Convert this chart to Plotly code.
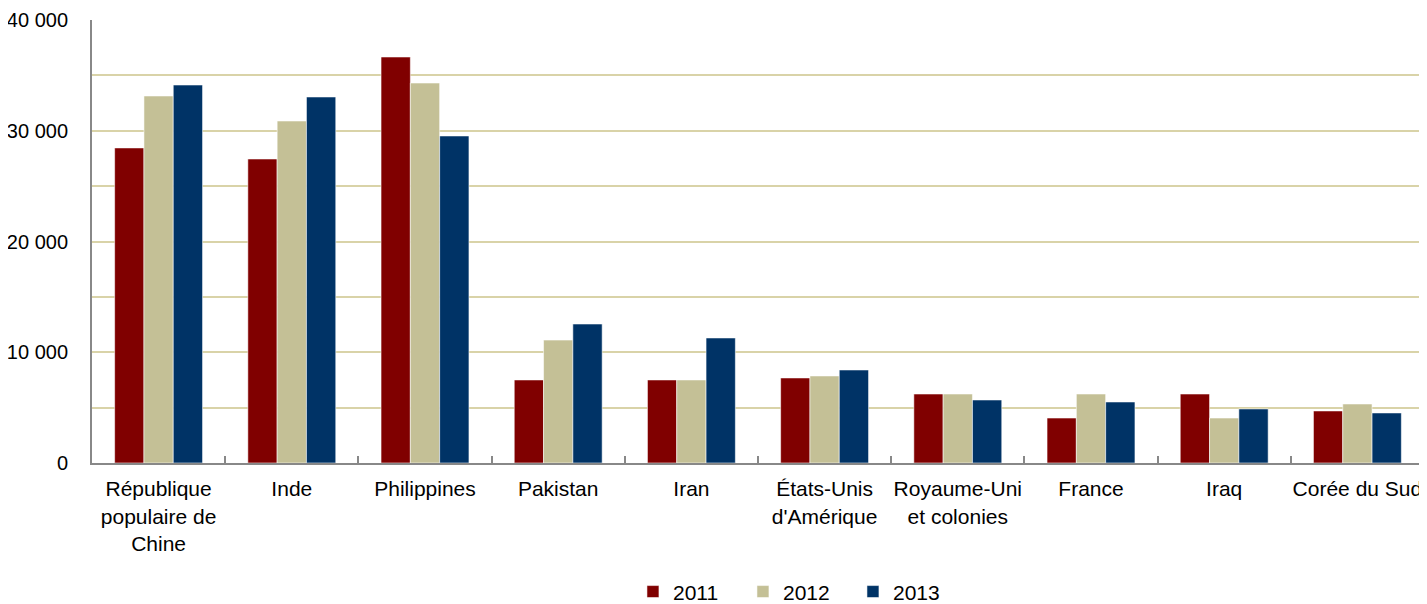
import plotly.graph_objects as go

categories = ["République<br>populaire de<br>Chine", "Inde", "Philippines", "Pakistan", "Iran",
              "États-Unis<br>d'Amérique", "Royaume-Uni<br>et colonies", "France", "Iraq", "Corée du Sud"]
years = ["2011", "2012", "2013"]
v2011 = [28450, 27450, 36660, 7500, 7500, 7680, 6230, 4060, 6230, 4700]
v2012 = [33140, 30880, 34310, 11100, 7500, 7860, 6230, 6230, 4060, 5330]
v2013 = [34130, 33050, 29530, 12550, 11290, 8400, 5690, 5510, 4880, 4520]
series = [v2011, v2012, v2013]
colors = ["#800000", "#C4C096", "#003366"]

tickvals = [0, 5000, 10000, 15000, 20000, 25000, 30000, 35000, 40000]
ticktext = ["0", "", "10 000", "", "20 000", "", "30 000", "", "40 000"]

font = "Liberation Sans, Arial, sans-serif"

fig = go.Figure()
for name, vals, col in zip(years, series, colors):
    fig.add_trace(go.Bar(
        x=categories, y=vals, name=name,
        marker=dict(color=col, line=dict(color="rgba(255,255,255,0.55)", width=1)),
    ))

fig.update_layout(
    width=1419, height=620,
    margin=dict(l=84, r=3, t=12, b=165),
    paper_bgcolor="white", plot_bgcolor="white",
    barmode="group", bargap=0.34, bargroupgap=0,
    font=dict(family=font, size=20, color="black"),
    showlegend=True,
    legend=dict(orientation="h", x=0.530, xanchor="center", y=-0.291, yanchor="middle",
                font=dict(size=21), entrywidth=65, entrywidthmode="pixels",
                itemwidth=30, tracegroupgap=0),
    xaxis=dict(showline=True, linecolor="#888888", linewidth=2, automargin=False,
               ticks="inside", tickson="boundaries", ticklen=7, tickcolor="#888888", tickwidth=2,
               showgrid=False, tickfont=dict(size=21), ticklabelstandoff=6, tickangle=0),
    yaxis=dict(range=[0, 40000], tickvals=tickvals, ticktext=ticktext, automargin=False,
               showline=True, linecolor="#888888", linewidth=2,
               showgrid=True, gridcolor="#D9D3A8", gridwidth=2, zeroline=False,
               ticks="", tickfont=dict(size=20), ticklabelstandoff=18),
)

fig.write_html("out.html")
